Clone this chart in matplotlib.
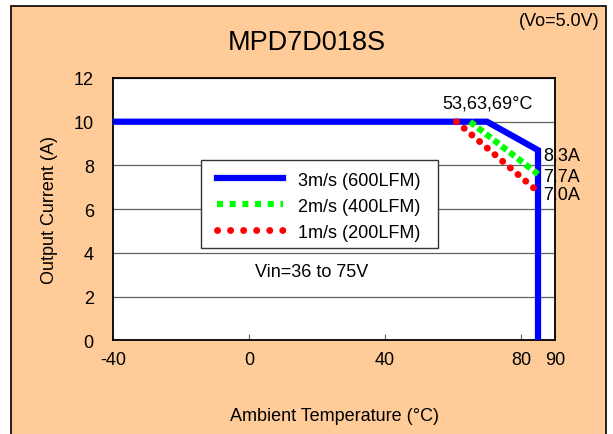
import matplotlib
matplotlib.use("Agg")
import matplotlib.pyplot as plt
from matplotlib.lines import Line2D
from matplotlib.patches import Rectangle

plt.rcParams["font.family"] = ["Liberation Sans", "DejaVu Sans"]
plt.rcParams["axes.unicode_minus"] = False

# derating curves (ambient temp degC, output current A)
temp_3ms = [-40, 70, 85, 85]
curr_3ms = [10, 10, 8.7, 0]
temp_2ms = [65, 85]
curr_2ms = [10, 7.6]
temp_1ms = [61, 85]
curr_1ms = [10, 6.8]

labels = ["3m/s (600LFM)", "2m/s (400LFM)", "1m/s (200LFM)"]
end_labels = ["8.3A", "7.7A", "7.0A"]
end_label_y = [8.45, 7.5, 6.65]
xticks = [-40, 0, 40, 80, 90]
yticks = [0, 2, 4, 6, 8, 10, 12]

peach = "#FFCC99"
fig = plt.figure(figsize=(6.13, 4.35), dpi=100)
fig.patch.set_facecolor("white")
fig.patches.append(Rectangle((11 / 613, -0.01), 595 / 613, 1 - 7 / 435 + 0.01,
                             transform=fig.transFigure, facecolor=peach,
                             edgecolor="black", linewidth=1.2, zorder=-10))

ax = fig.add_axes([113.3 / 613, 1 - 341.3 / 435, 441.7 / 613, 262.3 / 435])
ax.set_facecolor("white")
ax.set_xlim(-40, 90)
ax.set_ylim(0, 12)
ax.set_xticks(xticks)
ax.set_yticks(yticks)
ax.grid(axis="y", color="#606060", linewidth=0.9)
ax.set_axisbelow(True)
for s in ax.spines.values():
    s.set_linewidth(1.3)
ax.tick_params(axis="x", direction="in", length=4, color="#606060", pad=8, labelsize=13)
ax.tick_params(axis="y", length=0, pad=14, labelsize=13)

ax.plot(temp_3ms, curr_3ms, color="#0000FF", lw=4.5, solid_joinstyle="miter", zorder=3)
ax.plot(temp_2ms, curr_2ms, color="#00FF00", lw=4.5, linestyle=(0, (1, 0.6)), zorder=4)
ax.plot(temp_1ms, curr_1ms, color="#FF0000", lw=5, linestyle=(0, (0.01, 1.45)),
        dash_capstyle="round", zorder=5)

# legend: box drawn separately so its padding matches the original
handles = [
    Line2D([], [], color="#0000FF", lw=4.5),
    Line2D([], [], color="#00FF00", lw=4.5, linestyle=(0, (0.96, 1.07))),
    Line2D([], [], color="#FF0000", lw=5, linestyle=(0, (0.01, 1.87)), dash_capstyle="round"),
]
ax.add_patch(Rectangle((0.198, 0.352), 0.537, 0.3357, transform=ax.transAxes,
                       facecolor="white", edgecolor="#333333", linewidth=1.0, zorder=2.5))
ax.legend(handles, labels, loc="upper left", bbox_to_anchor=(0.2348, 0.643),
          borderaxespad=0, fontsize=13, handlelength=3.67, handletextpad=0.83,
          borderpad=0, labelspacing=0.5, frameon=False)

ax.text(70, 10.85, "53,63,69°C", ha="center", va="center", fontsize=13)
for lab, y in zip(end_labels, end_label_y):
    ax.text(86.6, y, lab, ha="left", va="center", fontsize=13, clip_on=False, zorder=7)
ax.text(18.5, 3.17, "Vin=36 to 75V", ha="center", va="center", fontsize=13)

ax.set_xlabel("Ambient Temperature (°C)", fontsize=13, labelpad=28)
ax.set_ylabel("Output Current (A)", fontsize=13, labelpad=11)

fig.text(307 / 613, 1 - 43 / 435, "MPD7D018S", ha="center", va="center", fontsize=19.5)
fig.text(599 / 613, 1 - 22 / 435, "(Vo=5.0V)", ha="right", va="center", fontsize=13)

fig.savefig("out.png", dpi=100, facecolor=fig.get_facecolor())
